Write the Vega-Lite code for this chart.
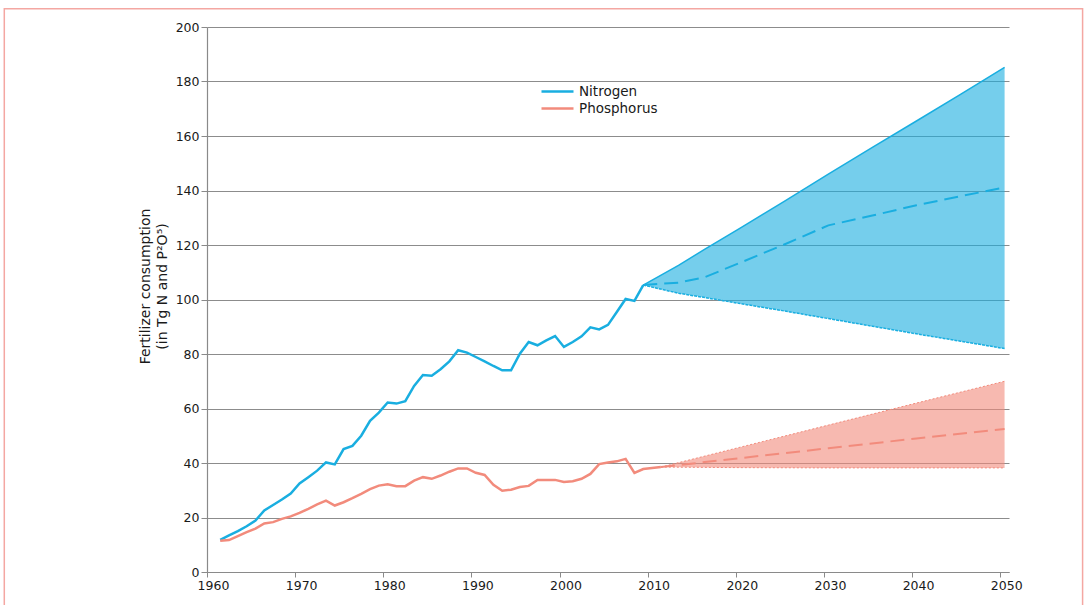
{
  "$schema": "https://vega.github.io/schema/vega-lite/v6.json",
  "width": 802,
  "height": 545,
  "autosize": {"type": "none"},
  "padding": {"left": 207, "top": 27, "right": 78, "bottom": 33},
  "background": "white",
  "config": {"view": {"stroke": null}, "font": "DejaVu Sans"},
  "datasets": {
    "hist": [
      {"series": "Nitrogen", "year": 1961, "value": 11.8}, {"series": "Nitrogen", "year": 1962, "value": 13.4},
      {"series": "Nitrogen", "year": 1963, "value": 15.0}, {"series": "Nitrogen", "year": 1964, "value": 16.8},
      {"series": "Nitrogen", "year": 1965, "value": 18.9}, {"series": "Nitrogen", "year": 1966, "value": 22.6},
      {"series": "Nitrogen", "year": 1967, "value": 24.6}, {"series": "Nitrogen", "year": 1968, "value": 26.6},
      {"series": "Nitrogen", "year": 1969, "value": 28.8}, {"series": "Nitrogen", "year": 1970, "value": 32.5},
      {"series": "Nitrogen", "year": 1971, "value": 34.8}, {"series": "Nitrogen", "year": 1972, "value": 37.2},
      {"series": "Nitrogen", "year": 1973, "value": 40.2}, {"series": "Nitrogen", "year": 1974, "value": 39.5},
      {"series": "Nitrogen", "year": 1975, "value": 45.1}, {"series": "Nitrogen", "year": 1976, "value": 46.3},
      {"series": "Nitrogen", "year": 1977, "value": 50.0}, {"series": "Nitrogen", "year": 1978, "value": 55.5},
      {"series": "Nitrogen", "year": 1979, "value": 58.5}, {"series": "Nitrogen", "year": 1980, "value": 62.2},
      {"series": "Nitrogen", "year": 1981, "value": 61.8}, {"series": "Nitrogen", "year": 1982, "value": 62.7},
      {"series": "Nitrogen", "year": 1983, "value": 68.3}, {"series": "Nitrogen", "year": 1984, "value": 72.3},
      {"series": "Nitrogen", "year": 1985, "value": 72.0}, {"series": "Nitrogen", "year": 1986, "value": 74.4},
      {"series": "Nitrogen", "year": 1987, "value": 77.3}, {"series": "Nitrogen", "year": 1988, "value": 81.4},
      {"series": "Nitrogen", "year": 1989, "value": 80.5}, {"series": "Nitrogen", "year": 1990, "value": 78.9},
      {"series": "Nitrogen", "year": 1991, "value": 77.3}, {"series": "Nitrogen", "year": 1992, "value": 75.6},
      {"series": "Nitrogen", "year": 1993, "value": 74.0}, {"series": "Nitrogen", "year": 1994, "value": 74.0},
      {"series": "Nitrogen", "year": 1995, "value": 80.1}, {"series": "Nitrogen", "year": 1996, "value": 84.4},
      {"series": "Nitrogen", "year": 1997, "value": 83.2}, {"series": "Nitrogen", "year": 1998, "value": 85.0},
      {"series": "Nitrogen", "year": 1999, "value": 86.6}, {"series": "Nitrogen", "year": 2000, "value": 82.6},
      {"series": "Nitrogen", "year": 2001, "value": 84.4}, {"series": "Nitrogen", "year": 2002, "value": 86.5},
      {"series": "Nitrogen", "year": 2003, "value": 89.8}, {"series": "Nitrogen", "year": 2004, "value": 89.0},
      {"series": "Nitrogen", "year": 2005, "value": 90.7}, {"series": "Nitrogen", "year": 2006, "value": 95.4},
      {"series": "Nitrogen", "year": 2007, "value": 100.2}, {"series": "Nitrogen", "year": 2008, "value": 99.5},
      {"series": "Nitrogen", "year": 2009, "value": 105.3},
      {"series": "Phosphorus", "year": 1961, "value": 11.5}, {"series": "Phosphorus", "year": 1962, "value": 11.7},
      {"series": "Phosphorus", "year": 1963, "value": 13.2}, {"series": "Phosphorus", "year": 1964, "value": 14.6},
      {"series": "Phosphorus", "year": 1965, "value": 15.9}, {"series": "Phosphorus", "year": 1966, "value": 17.8},
      {"series": "Phosphorus", "year": 1967, "value": 18.3}, {"series": "Phosphorus", "year": 1968, "value": 19.5},
      {"series": "Phosphorus", "year": 1969, "value": 20.4}, {"series": "Phosphorus", "year": 1970, "value": 21.7},
      {"series": "Phosphorus", "year": 1971, "value": 23.2}, {"series": "Phosphorus", "year": 1972, "value": 24.8},
      {"series": "Phosphorus", "year": 1973, "value": 26.2}, {"series": "Phosphorus", "year": 1974, "value": 24.4},
      {"series": "Phosphorus", "year": 1975, "value": 25.6}, {"series": "Phosphorus", "year": 1976, "value": 27.1},
      {"series": "Phosphorus", "year": 1977, "value": 28.7}, {"series": "Phosphorus", "year": 1978, "value": 30.4},
      {"series": "Phosphorus", "year": 1979, "value": 31.7}, {"series": "Phosphorus", "year": 1980, "value": 32.2},
      {"series": "Phosphorus", "year": 1981, "value": 31.5}, {"series": "Phosphorus", "year": 1982, "value": 31.5},
      {"series": "Phosphorus", "year": 1983, "value": 33.5}, {"series": "Phosphorus", "year": 1984, "value": 34.8},
      {"series": "Phosphorus", "year": 1985, "value": 34.2}, {"series": "Phosphorus", "year": 1986, "value": 35.4},
      {"series": "Phosphorus", "year": 1987, "value": 36.8}, {"series": "Phosphorus", "year": 1988, "value": 38.0},
      {"series": "Phosphorus", "year": 1989, "value": 38.0}, {"series": "Phosphorus", "year": 1990, "value": 36.4},
      {"series": "Phosphorus", "year": 1991, "value": 35.6}, {"series": "Phosphorus", "year": 1992, "value": 32.0},
      {"series": "Phosphorus", "year": 1993, "value": 29.8}, {"series": "Phosphorus", "year": 1994, "value": 30.2},
      {"series": "Phosphorus", "year": 1995, "value": 31.2}, {"series": "Phosphorus", "year": 1996, "value": 31.6},
      {"series": "Phosphorus", "year": 1997, "value": 33.8}, {"series": "Phosphorus", "year": 1998, "value": 33.8},
      {"series": "Phosphorus", "year": 1999, "value": 33.8}, {"series": "Phosphorus", "year": 2000, "value": 33.0},
      {"series": "Phosphorus", "year": 2001, "value": 33.3}, {"series": "Phosphorus", "year": 2002, "value": 34.2},
      {"series": "Phosphorus", "year": 2003, "value": 36.0}, {"series": "Phosphorus", "year": 2004, "value": 39.6},
      {"series": "Phosphorus", "year": 2005, "value": 40.2}, {"series": "Phosphorus", "year": 2006, "value": 40.6},
      {"series": "Phosphorus", "year": 2007, "value": 41.5}, {"series": "Phosphorus", "year": 2008, "value": 36.4},
      {"series": "Phosphorus", "year": 2009, "value": 37.8}, {"series": "Phosphorus", "year": 2010, "value": 38.2},
      {"series": "Phosphorus", "year": 2011, "value": 38.5}
    ],
    "bounds": [
      {"series": "Nitrogen", "year": 2009, "low": 105.3, "high": 105.3},
      {"series": "Nitrogen", "year": 2013, "low": 102.3, "high": 112.5},
      {"series": "Nitrogen", "year": 2016, "low": 100.7, "high": 118.5},
      {"series": "Nitrogen", "year": 2020, "low": 98.5, "high": 126.2},
      {"series": "Nitrogen", "year": 2025, "low": 95.8, "high": 136.0},
      {"series": "Nitrogen", "year": 2030, "low": 93.0, "high": 146.0},
      {"series": "Nitrogen", "year": 2035, "low": 90.2, "high": 155.8},
      {"series": "Nitrogen", "year": 2040, "low": 87.4, "high": 165.5},
      {"series": "Nitrogen", "year": 2045, "low": 84.7, "high": 175.3},
      {"series": "Nitrogen", "year": 2050, "low": 82.0, "high": 185.2},
      {"series": "Phosphorus", "year": 2011, "low": 38.5, "high": 38.5},
      {"series": "Phosphorus", "year": 2020, "low": 38.3, "high": 45.8},
      {"series": "Phosphorus", "year": 2030, "low": 38.2, "high": 53.9},
      {"series": "Phosphorus", "year": 2040, "low": 38.2, "high": 62.0},
      {"series": "Phosphorus", "year": 2050, "low": 38.2, "high": 70.0}
    ],
    "mid": [
      {"series": "Nitrogen", "year": 2009, "value": 105.3},
      {"series": "Nitrogen", "year": 2013, "value": 106.2},
      {"series": "Nitrogen", "year": 2016, "value": 108.2},
      {"series": "Nitrogen", "year": 2020, "value": 113.5},
      {"series": "Nitrogen", "year": 2025, "value": 120.2},
      {"series": "Nitrogen", "year": 2030, "value": 127.2},
      {"series": "Nitrogen", "year": 2035, "value": 130.8},
      {"series": "Nitrogen", "year": 2040, "value": 134.6},
      {"series": "Nitrogen", "year": 2045, "value": 137.9},
      {"series": "Nitrogen", "year": 2050, "value": 141.1},
      {"series": "Phosphorus", "year": 2011, "value": 38.5},
      {"series": "Phosphorus", "year": 2020, "value": 41.8},
      {"series": "Phosphorus", "year": 2030, "value": 45.4},
      {"series": "Phosphorus", "year": 2040, "value": 49.0},
      {"series": "Phosphorus", "year": 2050, "value": 52.5}
    ]
  },
  "layer": [
    {
      "data": {"values": [{"item": "frame"}]},
      "mark": {"type": "rect", "filled": false, "stroke": "#f4a7a2", "strokeWidth": 1.5, "clip": false},
      "encoding": {
        "x": {"datum": 1937, "type": "quantitative"},
        "x2": {"datum": 2059.35},
        "y": {"datum": 206.7, "type": "quantitative"},
        "y2": {"datum": -20}
      }
    },
    {
      "data": {"name": "bounds"},
      "mark": {"type": "area", "fillOpacity": 0.6, "xOffset": 4.4},
      "encoding": {
        "x": {"field": "year", "type": "quantitative"},
        "y": {"field": "low", "type": "quantitative"},
        "y2": {"field": "high"},
        "color": {"field": "series", "type": "nominal"}
      }
    },
    {
      "data": {"name": "bounds"},
      "transform": [{"filter": "datum.series === 'Nitrogen'"}],
      "layer": [
        {
          "mark": {"type": "line", "strokeWidth": 1.5, "xOffset": 4.4},
          "encoding": {
            "x": {"field": "year", "type": "quantitative"},
            "y": {"field": "high", "type": "quantitative"},
            "color": {"field": "series", "type": "nominal"}
          }
        },
        {
          "mark": {"type": "line", "strokeWidth": 1.5, "strokeDash": [3, 1], "xOffset": 4.4},
          "encoding": {
            "x": {"field": "year", "type": "quantitative"},
            "y": {"field": "low", "type": "quantitative"},
            "color": {"field": "series", "type": "nominal"}
          }
        }
      ]
    },
    {
      "data": {"name": "bounds"},
      "transform": [{"filter": "datum.series === 'Phosphorus'"}],
      "layer": [
        {
          "mark": {"type": "line", "strokeWidth": 1, "strokeDash": [2, 2], "xOffset": 4.4},
          "encoding": {
            "x": {"field": "year", "type": "quantitative"},
            "y": {"field": "high", "type": "quantitative"},
            "color": {"field": "series", "type": "nominal"}
          }
        },
        {
          "mark": {"type": "line", "strokeWidth": 1, "strokeDash": [2, 2], "xOffset": 4.4},
          "encoding": {
            "x": {"field": "year", "type": "quantitative"},
            "y": {"field": "low", "type": "quantitative"},
            "color": {"field": "series", "type": "nominal"}
          }
        }
      ]
    },
    {
      "data": {"name": "mid"},
      "mark": {"type": "line", "strokeWidth": 2, "strokeDash": [14, 7], "xOffset": 4.4},
      "encoding": {
        "x": {"field": "year", "type": "quantitative"},
        "y": {"field": "value", "type": "quantitative"},
        "color": {"field": "series", "type": "nominal"}
      }
    },
    {
      "data": {"name": "hist"},
      "mark": {"type": "line", "strokeWidth": 2.5, "xOffset": 4.4},
      "encoding": {
        "x": {
          "field": "year", "type": "quantitative",
          "scale": {"domain": [1960, 2051], "nice": false, "zero": false},
          "axis": {
            "values": [1960, 1970, 1980, 1990, 2000, 2010, 2020, 2030, 2040, 2050],
            "format": "d", "grid": false, "title": null,
            "domainColor": "#8a8a8a", "domainWidth": 1.2,
            "tickColor": "#8a8a8a", "tickSize": 5,
            "labelPadding": 2, "labelOffset": 6, "labelFontSize": 12.5,
            "labelColor": "#1a1a1a", "labelFlush": false, "labelOverlap": false
          }
        },
        "y": {
          "field": "value", "type": "quantitative",
          "scale": {"domain": [0, 200], "nice": false},
          "axis": {
            "values": [0, 20, 40, 60, 80, 100, 120, 140, 160, 180, 200],
            "grid": true, "gridColor": "#8c8c8c", "gridWidth": 1,
            "domainColor": "#8a8a8a", "domainWidth": 1.2,
            "tickColor": "#8a8a8a", "tickSize": 6,
            "labelPadding": 2, "labelFontSize": 12.5, "labelColor": "#1a1a1a",
            "title": ["Fertilizer consumption", "(in Tg N and P²O⁵)"],
            "titleFontSize": 14, "titleFontWeight": "normal", "titleColor": "#1a1a1a",
            "titleX": -55, "titleY": 259, "titleAngle": 270, "titleBaseline": "bottom",
            "titleAlign": "center", "titleLineHeight": 17
          }
        },
        "color": {
          "field": "series", "type": "nominal",
          "scale": {"domain": ["Nitrogen", "Phosphorus"], "range": ["#19aee0", "#f28b7c"]},
          "legend": {
            "orient": "none", "legendX": 333, "legendY": 57, "title": null,
            "symbolType": "stroke", "symbolSize": 1024, "symbolStrokeWidth": 2.5,
            "clipHeight": 15, "rowPadding": 2, "padding": 0,
            "labelFontSize": 13.5, "labelOffset": 4, "labelColor": "#1a1a1a"
          }
        }
      }
    }
  ]
}
